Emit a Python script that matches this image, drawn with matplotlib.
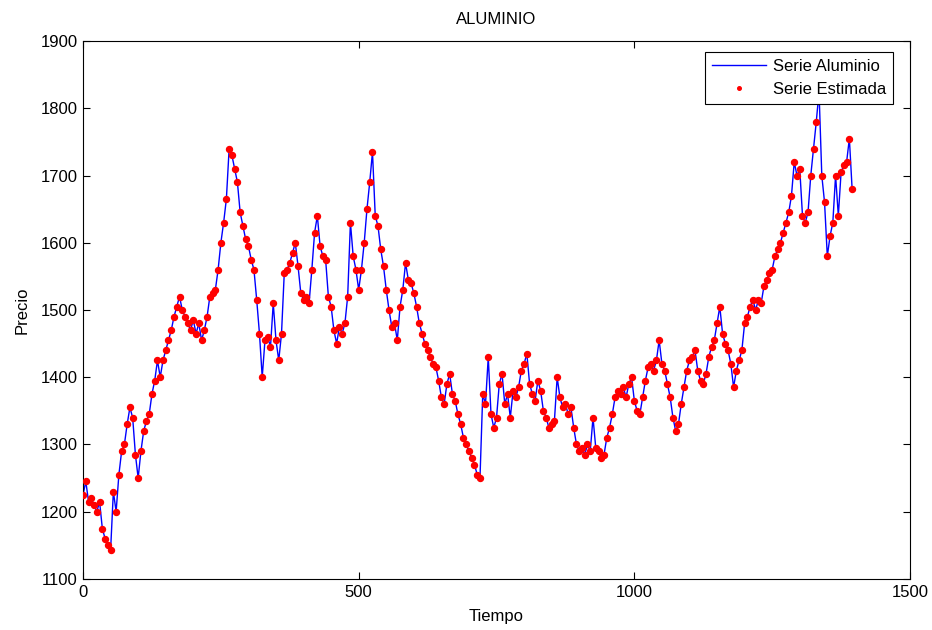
import numpy as np
import matplotlib
matplotlib.use("Agg")
import matplotlib.pyplot as plt

plt.rcParams['font.family'] = ['Liberation Sans', 'DejaVu Sans']

title = "ALUMINIO"
xlabel = "Tiempo"
ylabel = "Precio"
legend_labels = ["Serie Aluminio", "Serie Estimada"]
step = 5
precio = [
    1225, 1245, 1215, 1220, 1210, 1200, 1215, 1175, 1160, 1150,
    1143, 1230, 1200, 1255, 1290, 1300, 1330, 1355, 1340, 1285,
    1250, 1290, 1320, 1335, 1345, 1375, 1395, 1425, 1400, 1425,
    1440, 1455, 1470, 1490, 1505, 1520, 1500, 1490, 1480, 1470,
    1485, 1465, 1480, 1455, 1470, 1490, 1520, 1525, 1530, 1560,
    1600, 1630, 1665, 1740, 1730, 1710, 1690, 1645, 1625, 1605,
    1595, 1575, 1560, 1515, 1465, 1400, 1455, 1460, 1445, 1510,
    1455, 1425, 1465, 1555, 1560, 1570, 1585, 1600, 1565, 1525,
    1515, 1520, 1510, 1560, 1615, 1640, 1595, 1580, 1575, 1520,
    1505, 1470, 1450, 1475, 1465, 1480, 1520, 1630, 1580, 1560,
    1530, 1560, 1600, 1650, 1690, 1735, 1640, 1625, 1590, 1565,
    1530, 1500, 1475, 1480, 1455, 1505, 1530, 1570, 1545, 1540,
    1525, 1505, 1480, 1465, 1450, 1440, 1430, 1420, 1415, 1395,
    1370, 1360, 1390, 1405, 1375, 1365, 1345, 1330, 1310, 1300,
    1290, 1280, 1270, 1255, 1250, 1375, 1360, 1430, 1345, 1325,
    1340, 1390, 1405, 1360, 1375, 1340, 1380, 1370, 1385, 1410,
    1420, 1435, 1390, 1375, 1365, 1395, 1380, 1350, 1340, 1325,
    1330, 1335, 1400, 1370, 1355, 1360, 1345, 1355, 1325, 1300,
    1290, 1295, 1285, 1300, 1290, 1340, 1295, 1290, 1280, 1285,
    1310, 1325, 1345, 1370, 1380, 1375, 1385, 1370, 1390, 1400,
    1365, 1350, 1345, 1370, 1395, 1415, 1420, 1410, 1425, 1455,
    1420, 1410, 1390, 1370, 1340, 1320, 1330, 1360, 1385, 1410,
    1425, 1430, 1440, 1410, 1395, 1390, 1405, 1430, 1445, 1455,
    1480, 1505, 1465, 1450, 1440, 1420, 1385, 1410, 1425, 1440,
    1480, 1490, 1505, 1515, 1500, 1515, 1510, 1535, 1545, 1555,
    1560, 1580, 1590, 1600, 1615, 1630, 1645, 1670, 1720, 1700,
    1710, 1640, 1630, 1645, 1700, 1740, 1780, 1825, 1700, 1660,
    1580, 1610, 1630, 1700, 1640, 1705, 1715, 1720, 1755, 1680,
]
estimada = list(precio)
tiempo = np.arange(len(precio)) * step

fig = plt.figure(figsize=(9.32, 6.30), dpi=100)
ax = fig.add_axes([0.0891, 0.0810, 0.8873, 0.8539])
ax.plot(tiempo, precio, color='#0000ff', lw=1.0, label=legend_labels[0], zorder=2)
ax.plot(tiempo, estimada, ls='none', marker='o', ms=4.3, mfc='#ff0000', mec='#ff0000',
        label=legend_labels[1], zorder=3)

ax.set_xlim(0, 1500)
ax.set_ylim(1100, 1900)
ax.set_xticks([0, 500, 1000, 1500])
ax.set_yticks(range(1100, 1901, 100))
ax.tick_params(direction='in', top=True, right=True, labelsize=12, length=5, width=0.8, pad=4)
for s in ax.spines.values():
    s.set_linewidth(0.8)
ax.set_title(title, fontsize=12, pad=12)
ax.set_xlabel(xlabel, fontsize=12, labelpad=7)
ax.set_ylabel(ylabel, fontsize=12, labelpad=8)

leg = ax.legend(loc='upper right', bbox_to_anchor=(0.9794, 0.9796), borderaxespad=0,
                fontsize=12, frameon=True, fancybox=False,
                edgecolor='black', framealpha=1,
                handlelength=3.25, handletextpad=0.4, markerscale=0.6,
                borderpad=0.42, labelspacing=0.5)
leg.get_frame().set_linewidth(0.8)
leg.set_zorder(5)

fig.savefig("out.png", dpi=100)
